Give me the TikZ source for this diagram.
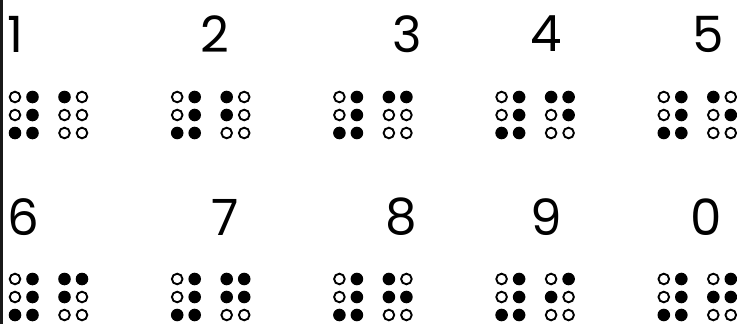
\documentclass[tikz,border=0pt]{standalone}
\usepackage{fontspec}
\setmainfont{Poppins}

% number sign and one cell per digit, dots in reading order
\def\numsign{0,1,0,1,1,1}
\newcommand{\braillecell}[3]{%
  \foreach \bit [count=\k from 0] in #3 {%
    \pgfmathtruncatemacro{\col}{mod(\k,2)}%
    \pgfmathtruncatemacro{\row}{floor(\k/2)}%
    \ifnum\bit=1
      \fill[dotfull] ({#1+17.5*\col},{#2+18*\row}) circle (6.3pt);
    \else
      \draw[dotopen] ({#1+17.5*\col},{#2+18*\row}) circle (5.3pt);
    \fi
  }%
}

\begin{document}
\begin{tikzpicture}[
  x=1pt, y=-1pt,
  digit/.style={inner sep=0pt, font=\fontsize{50}{50}\selectfont},
  dotfull/.style={fill=black},
  dotopen/.style={draw=black, line width=1.9pt, fill=white}
]
\useasboundingbox (0,0) rectangle (737,324);
\draw[line width=3pt, black!90] (1.5,0) -- (1.5,324);

\foreach \d/\x/\y in {1/15/34, 2/215/34, 3/407/34, 4/546/34, 5/708/34,
                      6/23/217, 7/225/217, 8/401/217, 9/546/217, 0/706/217}
  \node[digit] (n\d) at (\x,\y) {\d};

\foreach \pat [count=\i from 0] in {
    {1,0,0,0,0,0}, {1,0,1,0,0,0}, {1,1,0,0,0,0}, {1,1,0,1,0,0}, {1,0,0,1,0,0},
    {1,1,1,0,0,0}, {1,1,1,1,0,0}, {1,0,1,1,0,0}, {0,1,1,0,0,0}, {0,1,1,1,0,0}} {
  \pgfmathsetmacro{\gx}{15+162.2*mod(\i,5)}
  \pgfmathsetmacro{\gy}{\i<5 ? 97 : 279}
  \braillecell{\gx}{\gy}{\numsign}
  \braillecell{\gx+49.5}{\gy}{\pat}
}
\end{tikzpicture}
\end{document}
